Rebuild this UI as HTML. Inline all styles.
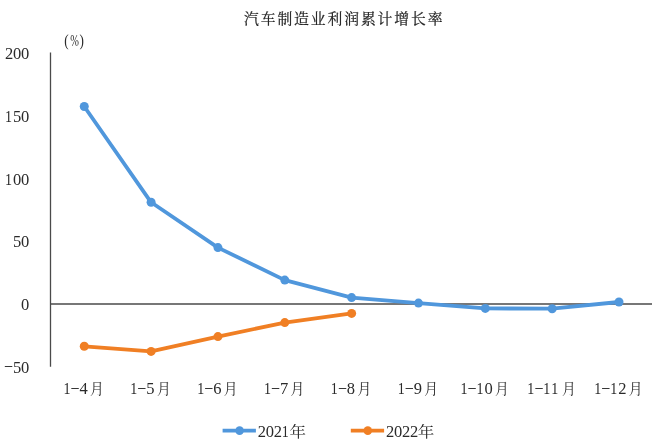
<!DOCTYPE html>
<html><head><meta charset="utf-8"><style>
html,body{margin:0;padding:0;background:#fff;}
body{width:655px;height:447px;overflow:hidden;}
svg{display:block;will-change:transform;}
.t{font-family:"Liberation Serif","Noto Serif CJK SC",serif;font-size:14.8px;font-weight:400;fill:#222;stroke:#222;stroke-width:0.2px;}
.n{font-family:"Liberation Serif","Noto Serif CJK SC",serif;font-size:16.5px;fill:#2a2a2a;}
.c{font-size:15px;}
.pp{font-size:17.2px;}
.h{font-size:13px;}
</style></head><body>
<svg width="655" height="447" viewBox="0 0 655 447">
<text class="t" x="244.0 260.7 277.4 294.1 310.8 327.5 344.2 360.9 377.6 394.3 411.0 427.7" y="24.0">汽车制造业利润累计增长率</text>
<text class="n p" y="45.8"><tspan class="pp" x="64.2" textLength="4.4" lengthAdjust="spacingAndGlyphs">(</tspan><tspan x="70.2" textLength="8.66" lengthAdjust="spacingAndGlyphs">%</tspan><tspan class="pp" x="79.6" textLength="4.4" lengthAdjust="spacingAndGlyphs">)</tspan></text>
<text class="n" y="59.0"><tspan x="5.00">2</tspan><tspan x="13.00">0</tspan><tspan x="21.00">0</tspan></text>
<text class="n" y="121.8"><tspan x="5.00" textLength="7.0" lengthAdjust="spacingAndGlyphs">1</tspan><tspan x="13.00">5</tspan><tspan x="21.00">0</tspan></text>
<text class="n" y="184.5"><tspan x="5.00" textLength="7.0" lengthAdjust="spacingAndGlyphs">1</tspan><tspan x="13.00">0</tspan><tspan x="21.00">0</tspan></text>
<text class="n" y="247.2"><tspan x="13.00">5</tspan><tspan x="21.00">0</tspan></text>
<text class="n" y="310.0"><tspan x="21.00">0</tspan></text>
<text class="n" y="372.8"><tspan class="h" x="3.83" dy="-2.44" textLength="9.60" lengthAdjust="spacingAndGlyphs">-</tspan><tspan x="13.00" dy="2.44">5</tspan><tspan x="21.00">0</tspan></text>
<line x1="50.5" y1="52.5" x2="50.5" y2="366.8" stroke="#4a4a4a" stroke-width="1.3"/>
<line x1="50" y1="304" x2="652" y2="304" stroke="#4a4a4a" stroke-width="1.3"/>
<text class="n" y="394.0"><tspan x="63.46" textLength="7.0" lengthAdjust="spacingAndGlyphs">1</tspan><tspan class="h" x="70.29" dy="-2.44" textLength="9.60" lengthAdjust="spacingAndGlyphs">-</tspan><tspan x="79.46" dy="2.44">4</tspan><tspan class="c" x="90.06" textLength="13.80" lengthAdjust="spacingAndGlyphs">月</tspan></text>
<text class="n" y="394.0"><tspan x="130.30" textLength="7.0" lengthAdjust="spacingAndGlyphs">1</tspan><tspan class="h" x="137.13" dy="-2.44" textLength="9.60" lengthAdjust="spacingAndGlyphs">-</tspan><tspan x="146.30" dy="2.44">5</tspan><tspan class="c" x="156.90" textLength="13.80" lengthAdjust="spacingAndGlyphs">月</tspan></text>
<text class="n" y="394.0"><tspan x="197.15" textLength="7.0" lengthAdjust="spacingAndGlyphs">1</tspan><tspan class="h" x="203.98" dy="-2.44" textLength="9.60" lengthAdjust="spacingAndGlyphs">-</tspan><tspan x="213.15" dy="2.44">6</tspan><tspan class="c" x="223.75" textLength="13.80" lengthAdjust="spacingAndGlyphs">月</tspan></text>
<text class="n" y="394.0"><tspan x="263.99" textLength="7.0" lengthAdjust="spacingAndGlyphs">1</tspan><tspan class="h" x="270.82" dy="-2.44" textLength="9.60" lengthAdjust="spacingAndGlyphs">-</tspan><tspan x="279.99" dy="2.44">7</tspan><tspan class="c" x="290.59" textLength="13.80" lengthAdjust="spacingAndGlyphs">月</tspan></text>
<text class="n" y="394.0"><tspan x="330.83" textLength="7.0" lengthAdjust="spacingAndGlyphs">1</tspan><tspan class="h" x="337.66" dy="-2.44" textLength="9.60" lengthAdjust="spacingAndGlyphs">-</tspan><tspan x="346.83" dy="2.44">8</tspan><tspan class="c" x="357.43" textLength="13.80" lengthAdjust="spacingAndGlyphs">月</tspan></text>
<text class="n" y="394.0"><tspan x="397.68" textLength="7.0" lengthAdjust="spacingAndGlyphs">1</tspan><tspan class="h" x="404.50" dy="-2.44" textLength="9.60" lengthAdjust="spacingAndGlyphs">-</tspan><tspan x="413.68" dy="2.44">9</tspan><tspan class="c" x="424.28" textLength="13.80" lengthAdjust="spacingAndGlyphs">月</tspan></text>
<text class="n" y="394.0"><tspan x="460.52" textLength="7.0" lengthAdjust="spacingAndGlyphs">1</tspan><tspan class="h" x="467.35" dy="-2.44" textLength="9.60" lengthAdjust="spacingAndGlyphs">-</tspan><tspan x="476.52" dy="2.44" textLength="7.0" lengthAdjust="spacingAndGlyphs">1</tspan><tspan x="484.52">0</tspan><tspan class="c" x="495.12" textLength="13.80" lengthAdjust="spacingAndGlyphs">月</tspan></text>
<text class="n" y="394.0"><tspan x="527.36" textLength="7.0" lengthAdjust="spacingAndGlyphs">1</tspan><tspan class="h" x="534.19" dy="-2.44" textLength="9.60" lengthAdjust="spacingAndGlyphs">-</tspan><tspan x="543.36" dy="2.44" textLength="7.0" lengthAdjust="spacingAndGlyphs">1</tspan><tspan x="551.36" textLength="7.0" lengthAdjust="spacingAndGlyphs">1</tspan><tspan class="c" x="561.96" textLength="13.80" lengthAdjust="spacingAndGlyphs">月</tspan></text>
<text class="n" y="394.0"><tspan x="594.20" textLength="7.0" lengthAdjust="spacingAndGlyphs">1</tspan><tspan class="h" x="601.03" dy="-2.44" textLength="9.60" lengthAdjust="spacingAndGlyphs">-</tspan><tspan x="610.20" dy="2.44" textLength="7.0" lengthAdjust="spacingAndGlyphs">1</tspan><tspan x="618.20">2</tspan><tspan class="c" x="628.80" textLength="13.80" lengthAdjust="spacingAndGlyphs">月</tspan></text>
<path d="M84.26 346.30 L151.10 351.40 L217.95 336.60 L284.79 322.60 L351.63 313.40" fill="none" stroke="#F07F24" stroke-width="3.8" stroke-linejoin="round" stroke-linecap="round"/>
<circle cx="84.26" cy="346.30" r="4.5" fill="#F07F24"/>
<circle cx="151.10" cy="351.40" r="4.5" fill="#F07F24"/>
<circle cx="217.95" cy="336.60" r="4.5" fill="#F07F24"/>
<circle cx="284.79" cy="322.60" r="4.5" fill="#F07F24"/>
<circle cx="351.63" cy="313.40" r="4.5" fill="#F07F24"/>
<path d="M84.26 106.50 L151.10 202.30 L217.95 247.60 L284.79 280.10 L351.63 297.60 L418.48 303.10 L485.32 308.40 L552.16 308.70 L619.00 302.00" fill="none" stroke="#5097DC" stroke-width="3.8" stroke-linejoin="round" stroke-linecap="round"/>
<circle cx="84.26" cy="106.50" r="4.5" fill="#5097DC"/>
<circle cx="151.10" cy="202.30" r="4.5" fill="#5097DC"/>
<circle cx="217.95" cy="247.60" r="4.5" fill="#5097DC"/>
<circle cx="284.79" cy="280.10" r="4.5" fill="#5097DC"/>
<circle cx="351.63" cy="297.60" r="4.5" fill="#5097DC"/>
<circle cx="418.48" cy="303.10" r="4.5" fill="#5097DC"/>
<circle cx="485.32" cy="308.40" r="4.5" fill="#5097DC"/>
<circle cx="552.16" cy="308.70" r="4.5" fill="#5097DC"/>
<circle cx="619.00" cy="302.00" r="4.5" fill="#5097DC"/>
<line x1="222.6" y1="430.6" x2="255.9" y2="430.6" stroke="#5097DC" stroke-width="3.7"/>
<circle cx="239.6" cy="430.6" r="4.3" fill="#5097DC"/>
<text class="n" y="436.7"><tspan x="257.80">2</tspan><tspan x="265.80">0</tspan><tspan x="273.80">2</tspan><tspan x="281.80" textLength="7.0" lengthAdjust="spacingAndGlyphs">1</tspan><tspan class="c" x="289.50" textLength="16.50" lengthAdjust="spacingAndGlyphs">年</tspan></text>
<line x1="350.8" y1="430.6" x2="384.1" y2="430.6" stroke="#F07F24" stroke-width="3.7"/>
<circle cx="367.8" cy="430.6" r="4.3" fill="#F07F24"/>
<text class="n" y="436.7"><tspan x="386.00">2</tspan><tspan x="394.00">0</tspan><tspan x="402.00">2</tspan><tspan x="410.00">2</tspan><tspan class="c" x="417.70" textLength="16.50" lengthAdjust="spacingAndGlyphs">年</tspan></text>
</svg>
</body></html>
